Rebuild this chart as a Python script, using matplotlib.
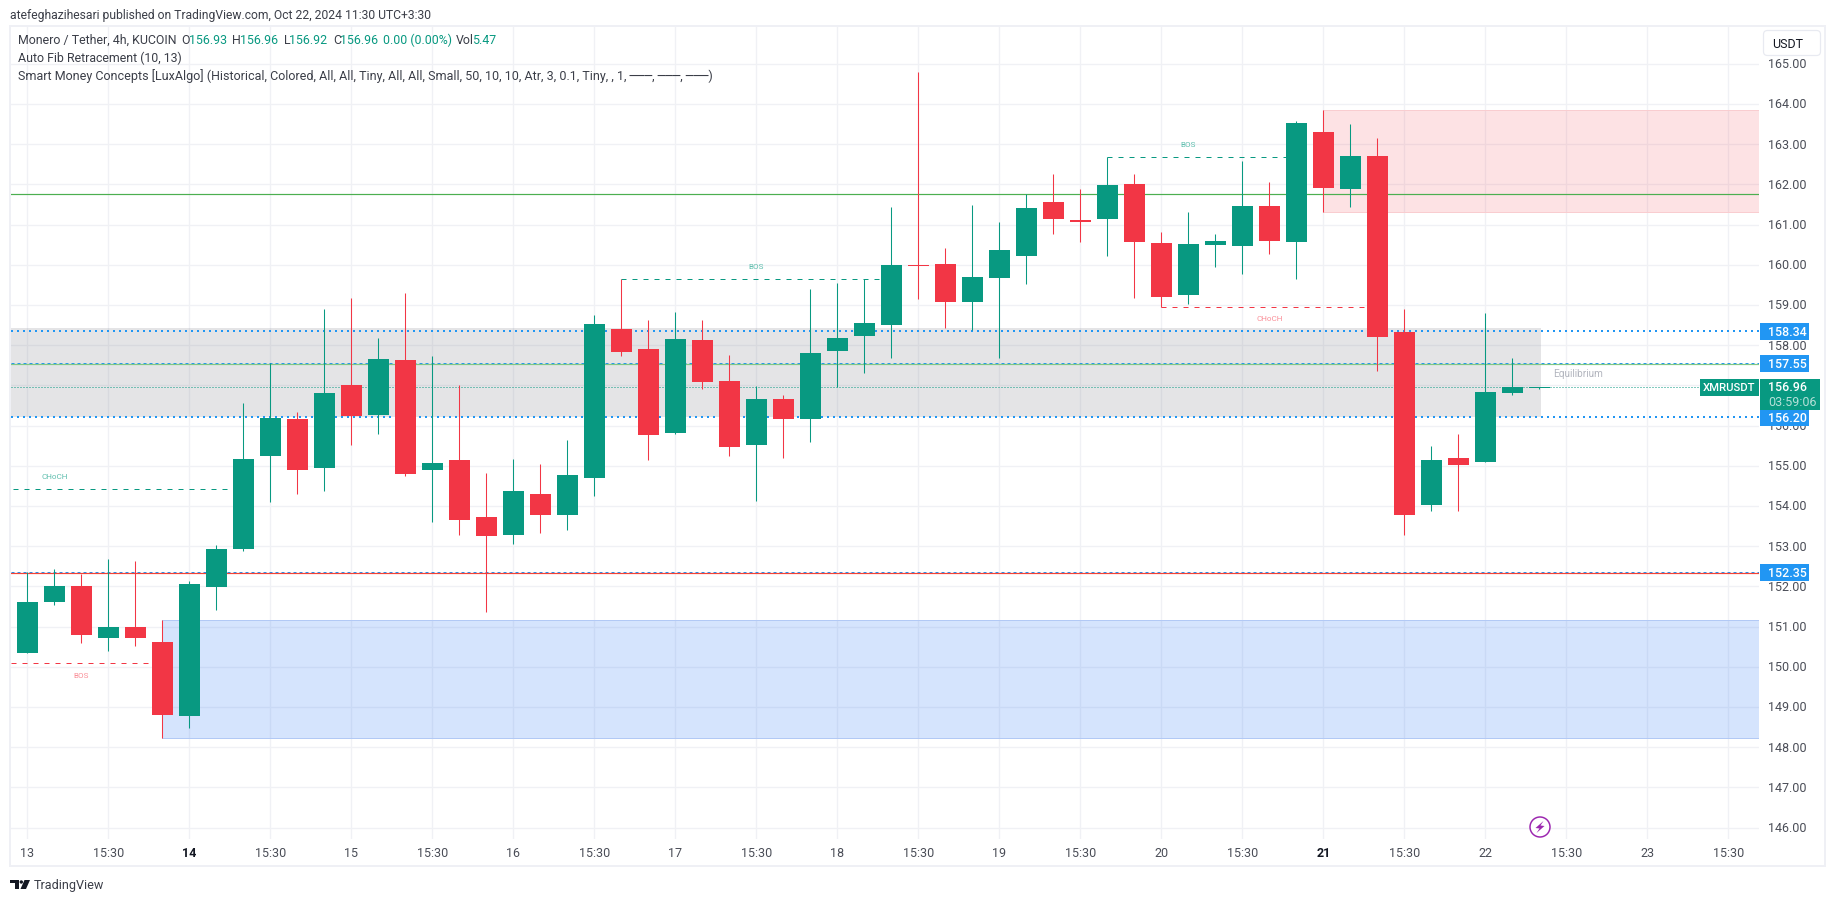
import matplotlib
matplotlib.use("Agg")
import matplotlib.pyplot as plt
from matplotlib.patches import Rectangle, FancyBboxPatch, Circle, Polygon

# ---------- data ----------
opens = [150.34,151.61,152.00,150.71,150.99,150.61,148.77,151.98,152.93,155.24,
         156.16,154.94,157.01,156.26,157.63,154.89,155.14,153.72,153.28,154.30,
         153.77,154.69,158.40,157.90,155.81,158.13,157.11,155.51,156.66,156.16,
         157.85,158.23,158.50,160.00,160.01,159.07,159.67,160.22,161.56,161.11,
         161.14,162.01,160.54,159.25,160.49,160.46,161.46,160.56,163.30,161.88,
         162.70,158.33,154.02,155.19,155.09,156.81,156.93]
highs = [152.36,152.43,152.31,152.68,152.63,151.16,152.13,153.03,156.56,157.55,
         156.34,158.90,159.17,158.18,159.30,157.73,157.01,154.82,155.17,155.04,
         155.64,158.75,159.64,158.62,158.82,158.62,157.75,156.98,156.76,159.40,
         159.54,159.64,161.44,164.79,160.41,161.48,161.06,161.76,162.26,161.88,
         162.68,162.26,160.81,161.31,160.76,162.58,162.06,163.57,163.85,163.50,
         163.15,158.90,155.49,155.79,158.80,157.68,156.96]
lows = [150.34,151.53,150.59,150.39,150.51,148.23,148.47,151.41,152.88,154.10,
        154.30,154.37,155.51,155.79,154.74,153.60,153.28,151.36,153.05,153.33,
        153.40,154.25,157.73,155.14,155.79,156.91,155.24,154.12,155.19,155.59,
        156.96,157.31,157.68,159.15,158.43,158.38,157.68,159.52,160.76,160.56,
        160.22,159.17,158.95,159.02,159.94,159.77,160.27,159.64,161.31,161.44,
        157.36,153.28,153.87,153.87,155.09,156.76,156.92]
closes = [151.61,152.00,150.79,150.99,150.71,148.80,152.05,152.93,155.17,156.19,
          154.89,156.81,156.24,157.65,154.79,155.07,153.65,153.25,154.37,153.77,
          154.77,158.52,157.83,155.76,158.15,157.08,155.47,156.66,156.16,157.80,
          158.18,158.55,159.99,159.96,159.07,159.69,160.37,161.41,161.14,161.06,
          161.98,160.56,159.20,160.51,160.59,161.46,160.59,163.52,161.91,162.70,
          158.20,153.77,155.14,155.02,156.83,156.96,156.96]
price_ticks = [146,147,148,149,150,151,152,153,154,155,156,157,158,159,160,161,162,163,164,165]
time_labels = ["13","15:30","14","15:30","15","15:30","16","15:30","17","15:30","18","15:30",
               "19","15:30","20","15:30","21","15:30","22","15:30","23","15:30"]
bold_labels = ["14","21"]
level_labels = [158.34, 157.55, 156.20, 152.35]
last_price = 156.96
green_levels = [161.76, 157.53]
red_level = 152.33
gray_zone = (156.21, 158.43)
blue_zone = (148.23, 151.16)
red_zone = (161.31, 163.85)
# (start candle, end candle, price, label, label candle, colour key)
structures = [(-0.53, 7.43, 154.41, "CHoCH", 1, "g"), (-0.6, 4.8, 150.08, "BOS", 2, "r"),
              (22, 32, 159.64, "BOS", 27, "g"), (40, 47, 162.68, "BOS", 43, "g"),
              (42, 50, 158.95, "CHoCH", 46, "r")]

GREEN, RED = "#089981", "#f23645"
GRID = "#f0f1f5"
BLUE = "#2196f3"
FRAME = "#eff0f5"
W, H = 1835, 903
plt.rcParams["font.family"] = ["Roboto", "DejaVu Sans"]
plt.rcParams["lines.scale_dashes"] = False
PX = 0.72

fig = plt.figure(figsize=(W/100, H/100), dpi=100, facecolor="white")

# pixel overlay for page chrome
ov = fig.add_axes([0, 0, 1, 1], zorder=5)
ov.set_xlim(0, W); ov.set_ylim(H, 0); ov.axis("off"); ov.patch.set_alpha(0)

def pane(l, t, r, b, **kw):
    return fig.add_axes([l/W, 1-b/H, (r-l)/W, (b-t)/H], **kw)

# main price pane
L, R, T, B = 11, 1759, 28, 840
ax = pane(L, T, R, B, zorder=2)
X0, DX = 27.3, 27.0
ax.set_xlim((L-X0)/DX, (R-X0)/DX)
ax.set_ylim(152+(587.3-B)/40.2, 152+(587.3-T)/40.2)
for s in ax.spines.values():
    s.set_visible(False)
ax.tick_params(left=False, bottom=False, labelleft=False, labelbottom=False)
ax.set_xticks(range(0, 66, 3)); ax.set_yticks(price_ticks)
ax.set_axisbelow(True)
ax.grid(True, color=GRID, lw=1.3*PX, zorder=0)
xl = ax.get_xlim()
right_idx = xl[1]

# zones
ax.add_patch(Rectangle((xl[0], gray_zone[0]), 56.06-xl[0], gray_zone[1]-gray_zone[0],
                       fc="#787b86", alpha=0.2, lw=0, zorder=1))
ax.add_patch(Rectangle((5, blue_zone[0]), right_idx-5, blue_zone[1]-blue_zone[0],
                       fc="#3179f5", alpha=0.2, ec="none", lw=0, zorder=1))
ax.add_patch(Rectangle((5, blue_zone[0]), right_idx-5, blue_zone[1]-blue_zone[0],
                       fc="none", ec="#b2c9f5", lw=PX, zorder=1))
ax.add_patch(Rectangle((48, red_zone[0]), right_idx-48, red_zone[1]-red_zone[0],
                       fc="#f23645", alpha=0.14, ec="none", lw=0, zorder=1))
ax.add_patch(Rectangle((48, red_zone[0]), right_idx-48, red_zone[1]-red_zone[0],
                       fc="none", ec="#f9cdd0", lw=PX, zorder=1))

# level lines
for lvl in level_labels:
    thick = lvl in (158.34, 156.20)
    dash = (0, (2*PX, 4*PX)) if thick else (0, (3*PX, 3*PX))
    ax.axhline(lvl + (0 if thick else 0.015), color=BLUE, lw=(2 if thick else 1)*PX, ls=dash, zorder=2.2,
               dash_capstyle="butt")
for lvl, c in zip(green_levels, ["#4caf50", "#81c784"]):
    ax.axhline(lvl, color=c, lw=1.2*PX, zorder=2.4)
ax.axhline(red_level, color="#f44336", lw=1.2*PX, zorder=2.4)
ax.axhline(last_price, color=GREEN, lw=PX, ls=(0, (1*PX, 2*PX)), zorder=2.5, dash_capstyle="butt")

# structure lines
SC = {"g": (GREEN, "#5fbfae"), "r": (RED, "#fa8f98")}
for a, b, p, lab, lx, k in structures:
    ax.plot([a, b], [p, p], color=SC[k][0], lw=PX, ls=(0, (5*PX, 6*PX)), zorder=2.6, dash_capstyle="butt")
    off = 13 if (k == "g") else -11.5
    ax.annotate(lab, xy=(lx, p), xytext=(0, off*PX), textcoords="offset points",
                ha="center", va="center", fontsize=5.9, color=SC[k][1], zorder=2.6)
ax.text(56.5, 157.3, "Equilibrium", fontsize=7.2, color="#b2b5be", va="center", ha="left", zorder=2.6)

# candles
idx = list(range(len(opens)))
cols = [GREEN if c >= o else RED for o, c in zip(opens, closes)]
ax.vlines(idx, lows, highs, colors=cols, lw=1.05*PX, zorder=3)
ax.bar(idx, [abs(c-o) for o, c in zip(opens, closes)], bottom=[min(o, c) for o, c in zip(opens, closes)],
       width=21/27, color=cols, lw=0, zorder=3.1)

# price axis
ap = pane(R, T, 1825, B, zorder=3, sharey=None)
ap.set_xlim(R, 1825); ap.set_ylim(ax.get_ylim()); ap.axis("off")
for p in price_ticks:
    ap.text(1768, p, f"{p:.2f}", fontsize=9.0, color="#4a4d57", va="center", ha="left", zorder=1)
UNIT = (ax.get_ylim()[1]-ax.get_ylim()[0])/(B-T)
for p in level_labels:
    ap.add_patch(Rectangle((1760, p-8.5*UNIT), 49, 17*UNIT, fc=BLUE, lw=0, zorder=2))
    ap.text(1768, p, f"{p:.2f}", fontsize=8.9, color="white", va="center", ha="left", zorder=3, fontweight="medium")
ap.add_patch(Rectangle((1760, last_price-23.3*UNIT), 60, 31*UNIT, fc=GREEN, lw=0, zorder=4))
ap.text(1768, last_price, f"{last_price:.2f}", fontsize=8.9, color="white", va="center", ha="left", zorder=5, fontweight="medium")
ap.text(1768, last_price-15*UNIT, "03:59:06", fontsize=9.0, color="#b5e0d8", va="center", ha="left", zorder=5)

# XMRUSDT tag, USDT button, icon, frame
ov.add_patch(Rectangle((1700, 380), 59, 17, fc=GREEN, lw=0))
ov.text(1729.5, 388.5, "XMRUSDT", fontsize=8.1, color="white", ha="center", va="center", fontweight="medium")
ov.add_patch(Rectangle((1759, 28), 66, 32, fc="white", lw=0))
ov.add_patch(FancyBboxPatch((1765, 33), 54, 22, boxstyle="round,pad=1.5,rounding_size=4", fc="white", ec="#e8eaf1", lw=1.2*PX))
ov.text(1772, 45, "USDT", fontsize=9.0, color="#131722", ha="left", va="center")
ov.add_patch(Circle((1540, 828), 10, fc="white", ec="#9c27b0", lw=1.5*PX))
ov.add_patch(Polygon([(1543.5, 822), (1535.5, 829), (1539.5, 829.5), (1536.5, 834), (1544.5, 827), (1540.5, 826.5)], fc="#9c27b0", lw=0))
ov.add_patch(Rectangle((10, 27), 1815, 840, fc="none", ec=FRAME, lw=2*PX))

# time axis
for i, lab in enumerate(time_labels):
    b = lab in bold_labels
    ov.text(X0+3*i*DX, 854, lab, fontsize=9.0, ha="center", va="center",
            color="#131722" if b else "#4a4d57", fontweight="bold" if b else "normal")

# page text
DK = "#3b3e48"
ov.text(10, 15, "atefeghazihesari published on TradingView.com, Oct 22, 2024 11:30 UTC+3:30",
        fontsize=8.7, color=DK, va="center", ha="left")
ov.text(18, 40, "Monero / Tether, 4h, KUCOIN", fontsize=8.9, color=DK, va="center")
for x, t, c in [(181, "O", DK), (189, "156.93", GREEN), (232, "H", DK), (240, "156.96", GREEN),
                (284, "L", DK), (289, "156.92", GREEN), (333, "C", DK), (340, "156.96", GREEN),
                (383, "0.00 (0.00%)", GREEN), (456, "Vol", DK), (472, "5.47", GREEN)]:
    ov.text(x, 40, t, fontsize=8.9, color=c, va="center")
ov.text(18, 58, "Auto Fib Retracement (10, 13)", fontsize=8.9, color=DK, va="center")
ov.text(18, 76, "Smart Money Concepts [LuxAlgo] (Historical, Colored, All, All, Tiny, All, All, Small, 50, 10, 10, Atr, 3, 0.1, Tiny, , 1, ───, ───, ───)",
        fontsize=9.0, color=DK, va="center")

# logo
ov.add_patch(Polygon([(10, 881), (19, 881), (19, 890), (14.5, 890), (14.5, 884.5), (10, 884.5)], fc="#131722", lw=0))
ov.add_patch(Circle((21.3, 883), 1.7, fc="#131722", lw=0))
ov.add_patch(Polygon([(24.5, 881), (30, 881), (26, 890), (20.5, 890)], fc="#131722", lw=0))
ov.text(34, 885.5, "TradingView", fontsize=9.1, color="#3b3e48", va="center", ha="left")

fig.savefig("out.png", dpi=100, facecolor="white")
